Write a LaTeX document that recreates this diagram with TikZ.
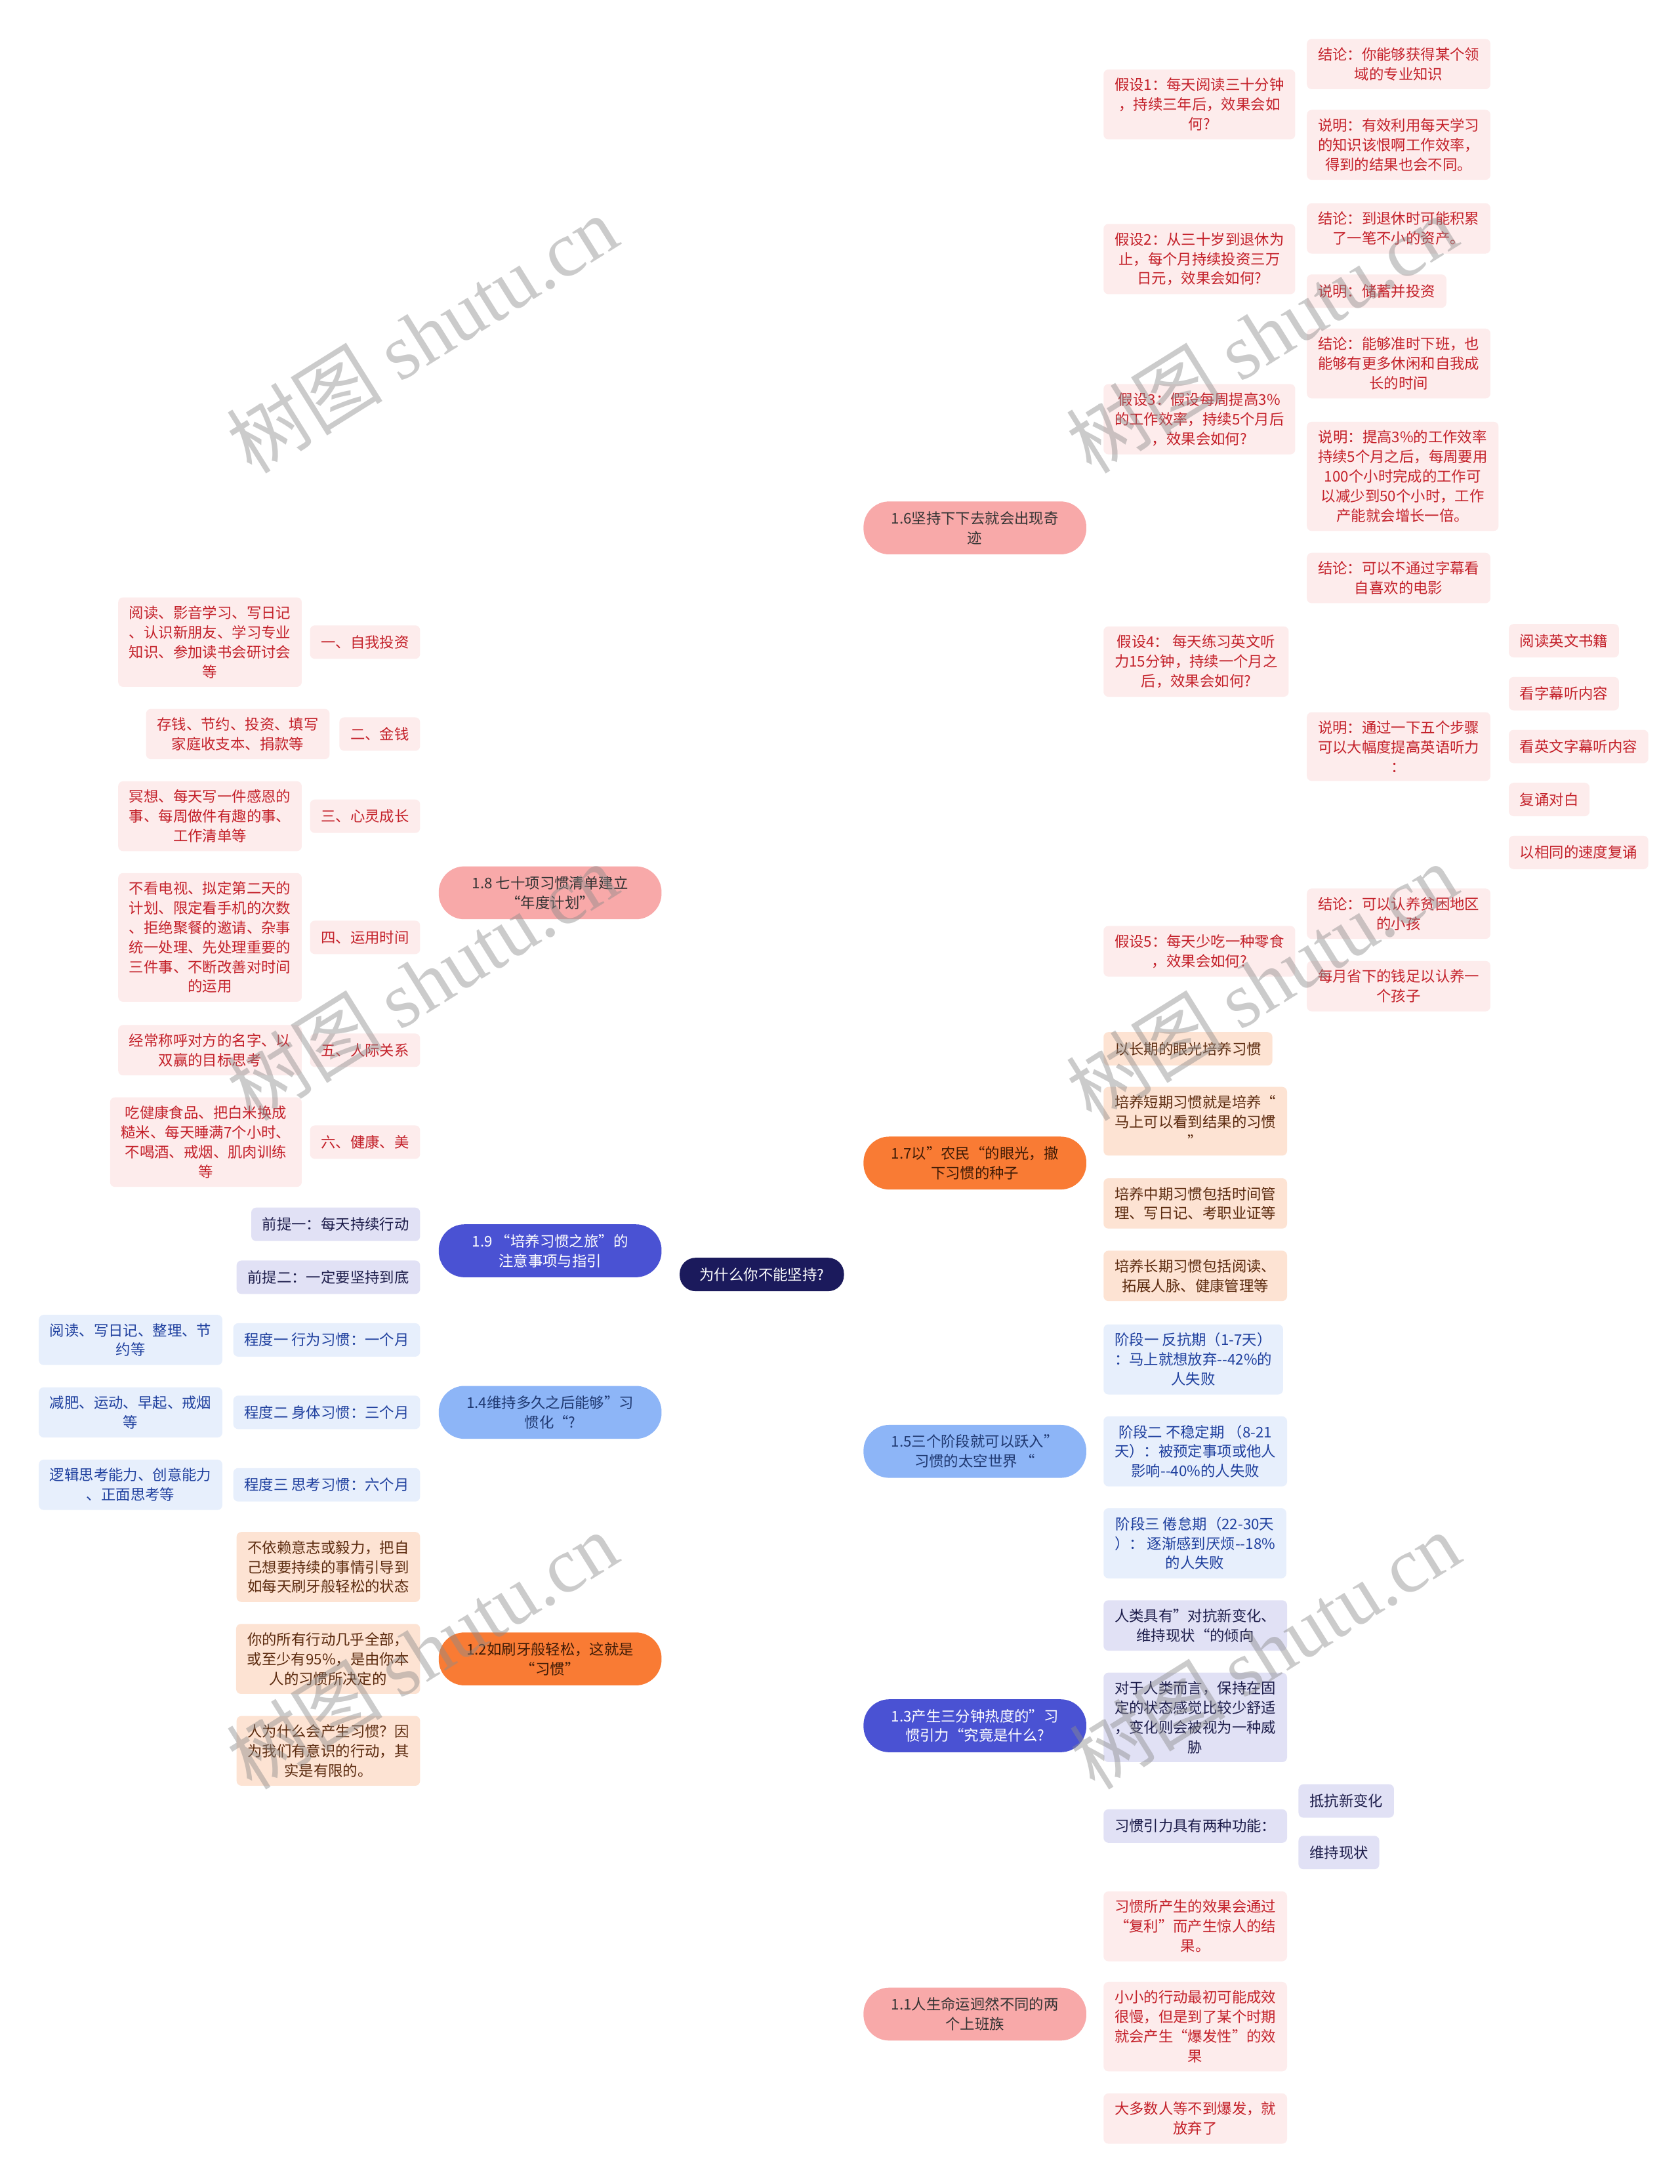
\documentclass[tikz,border=0pt]{standalone}
\usepackage{fontspec}
\setmainfont{Noto Sans CJK SC}
\newfontfamily\wmfont{Liberation Serif}
\usetikzlibrary{calc, backgrounds}
\definecolor{hbroot}{HTML}{1B1A5C}
\definecolor{hbpink}{HTML}{F8A9A9}
\definecolor{hbpinktx}{HTML}{333333}
\definecolor{hbpinkbg}{HTML}{FDECEC}
\definecolor{hbpinkfg}{HTML}{C4212A}
\definecolor{hbpinkln}{HTML}{EFA3A3}
\definecolor{hborg}{HTML}{F97B34}
\definecolor{hborgtx}{HTML}{3F1B06}
\definecolor{hborgbg}{HTML}{FDE3D3}
\definecolor{hborgfg}{HTML}{5B2A0E}
\definecolor{hborgln}{HTML}{D9692A}
\definecolor{hbblu}{HTML}{8DB5F7}
\definecolor{hbblutx}{HTML}{1F3870}
\definecolor{hbblubg}{HTML}{E7EFFC}
\definecolor{hbblufg}{HTML}{1E3F9E}
\definecolor{hbbluln}{HTML}{7EA3DD}
\definecolor{hbpur}{HTML}{4A52D3}
\definecolor{hbpurbg}{HTML}{E1E1F5}
\definecolor{hbpurfg}{HTML}{1C1C4A}
\definecolor{hbpurln}{HTML}{1F2777}

\begin{document}
\begin{tikzpicture}[
  x=0.02cm, y=-0.02cm,
  font=\fontsize{6}{8}\selectfont,
  line cap=round, line join=round,
  leaf/.style={align=center, inner xsep=4.5pt, inner ysep=3.5pt, rounded corners=2pt, minimum height=0.48cm},
  pill/.style={align=center, inner xsep=5pt, inner ysep=3pt, minimum width=3.2cm, minimum height=0.76cm, rounded corners=10.5pt},
  pinkpill/.style={pill, fill=hbpink, text=hbpinktx},
  orgpill/.style={pill, fill=hborg, text=hborgtx},
  blupill/.style={pill, fill=hbblu, text=hbblutx},
  purpill/.style={pill, fill=hbpur, text=white},
  pinkleaf/.style={leaf, fill=hbpinkbg, text=hbpinkfg},
  orgleaf/.style={leaf, fill=hborgbg, text=hborgfg},
  bluleaf/.style={leaf, fill=hbblubg, text=hbblufg},
  purleaf/.style={leaf, fill=hbpurbg, text=hbpurfg},
  link/.style={line width=0.5pt, rounded corners=4pt},
  trunk/.style={line width=0.7pt},
  wm/.style={text=black!45, text opacity=0.45, font=\fontsize{32}{32}\selectfont, rotate=32, inner sep=0pt},
]
\fill[white] (0,0) rectangle (1206,1568);
\useasboundingbox (0,0) rectangle (1206,1568);

\node[fill=hbroot, text=white, rounded corners=6.5pt, minimum width=2.36cm, minimum height=0.48cm] (root) at (547,915) {为什么你不能坚持?};

% right: main branches
\node[pinkpill] (n16) at (700,379) {1.6坚持下下去就会出现奇\\迹};
\node[orgpill] (n17) at (700,835) {1.7以”农民“的眼光，撤\\下习惯的种子};
\node[blupill] (n15) at (700,1042) {1.5三个阶段就可以跃入”\\习惯的太空世界 “};
\node[purpill] (n13) at (700,1239) {1.3产生三分钟热度的”习\\惯引力“究竟是什么?};
\node[pinkpill] (n11) at (700,1446) {1.1人生命运迥然不同的两\\个上班族};

% left: main branches
\node[pinkpill] (n18) at (395,641) {1.8 七十项习惯清单建立\\“年度计划”};
\node[purpill] (n19) at (395,898) {1.9 “培养习惯之旅”的\\注意事项与指引};
\node[blupill] (n14) at (395,1014) {1.4维持多久之后能够”习\\惯化“?};
\node[orgpill] (n12) at (395,1191) {1.2如刷牙般轻松，这就是\\“习惯”};

% 1.6 hypotheses
\node[pinkleaf, anchor=west] (h1) at (792,75) {假设1：每天阅读三十分钟\\，持续三年后，效果会如\\何?};
\node[pinkleaf, anchor=west] (h2) at (792,186) {假设2：从三十岁到退休为\\止，每个月持续投资三万\\日元，效果会如何?};
\node[pinkleaf, anchor=west] (h3) at (792,301) {假设3：假设每周提高3\%\\的工作效率，持续5个月后\\，效果会如何?};
\node[pinkleaf, anchor=west] (h4) at (792,475) {假设4： 每天练习英文听\\力15分钟，持续一个月之\\后，效果会如何?};
\node[pinkleaf, anchor=west] (h5) at (792,683) {假设5：每天少吃一种零食\\，效果会如何?};

\node[pinkleaf, anchor=west] (h1a) at (938,46) {结论：你能够获得某个领\\域的专业知识};
\node[pinkleaf, anchor=west] (h1b) at (938,104) {说明：有效利用每天学习\\的知识该恨啊工作效率，\\得到的结果也会不同。};
\node[pinkleaf, anchor=west] (h2a) at (938,164) {结论：到退休时可能积累\\了一笔不小的资产。};
\node[pinkleaf, anchor=west] (h2b) at (938,209) {说明：储蓄并投资};
\node[pinkleaf, anchor=west] (h3a) at (938,261) {结论：能够准时下班，也\\能够有更多休闲和自我成\\长的时间};
\node[pinkleaf, anchor=west] (h3b) at (938,342) {说明：提高3\%的工作效率\\持续5个月之后，每周要用\\100个小时完成的工作可\\以减少到50个小时，工作\\产能就会增长一倍。};
\node[pinkleaf, anchor=west] (h4a) at (938,415) {结论：可以不通过字幕看\\自喜欢的电影};
\node[pinkleaf, anchor=west] (h4b) at (938,536) {说明：通过一下五个步骤\\可以大幅度提高英语听力\\：};
\node[pinkleaf, anchor=west] (h5a) at (938,656) {结论：可以认养贫困地区\\的小孩};
\node[pinkleaf, anchor=west] (h5b) at (938,708) {每月省下的钱足以认养一\\个孩子};

\node[pinkleaf, anchor=west] (s1) at (1083,460) {阅读英文书籍};
\node[pinkleaf, anchor=west] (s2) at (1083,498) {看字幕听内容};
\node[pinkleaf, anchor=west] (s3) at (1083,536) {看英文字幕听内容};
\node[pinkleaf, anchor=west] (s4) at (1083,574) {复诵对白};
\node[pinkleaf, anchor=west] (s5) at (1083,612) {以相同的速度复诵};

% 1.7
\node[orgleaf, anchor=west] (o1) at (792,753) {以长期的眼光培养习惯};
\node[orgleaf, anchor=west] (o2) at (792,805) {培养短期习惯就是培养“\\马上可以看到结果的习惯\\”};
\node[orgleaf, anchor=west] (o3) at (792,864) {培养中期习惯包括时间管\\理、写日记、考职业证等};
\node[orgleaf, anchor=west] (o4) at (792,916) {培养长期习惯包括阅读、\\拓展人脉、健康管理等};

% 1.5
\node[bluleaf, anchor=west] (b1) at (792,976) {阶段一 反抗期（1-7天）\\：马上就想放弃-{}-42\%的\\人失败};
\node[bluleaf, anchor=west] (b2) at (792,1042) {阶段二 不稳定期 （8-21\\天）：被预定事项或他人\\影响-{}-40\%的人失败};
\node[bluleaf, anchor=west] (b3) at (792,1108) {阶段三 倦怠期（22-30天\\）： 逐渐感到厌烦-{}-18\%\\的人失败};

% 1.3
\node[purleaf, anchor=west] (p1) at (792,1167) {人类具有”对抗新变化、\\维持现状“的倾向};
\node[purleaf, anchor=west] (p2) at (792,1233) {对于人类而言，保持在固\\定的状态感觉比较少舒适\\，变化则会被视为一种威\\胁};
\node[purleaf, anchor=west] (p3) at (792,1311) {习惯引力具有两种功能：};
\node[purleaf, anchor=west] (p3a) at (932,1293) {抵抗新变化};
\node[purleaf, anchor=west] (p3b) at (932,1330) {维持现状};

% 1.1
\node[pinkleaf, anchor=west] (r1) at (792,1383) {习惯所产生的效果会通过\\“复利”而产生惊人的结\\果。};
\node[pinkleaf, anchor=west] (r2) at (792,1455) {小小的行动最初可能成效\\很慢，但是到了某个时期\\就会产生“爆发性”的效\\果};
\node[pinkleaf, anchor=west] (r3) at (792,1521) {大多数人等不到爆发，就\\放弃了};

% 1.8
\node[pinkleaf, anchor=east] (e1) at (302,461) {一、自我投资};
\node[pinkleaf, anchor=east] (e2) at (302,527) {二、金钱};
\node[pinkleaf, anchor=east] (e3) at (302,586) {三、心灵成长};
\node[pinkleaf, anchor=east] (e4) at (302,673) {四、运用时间};
\node[pinkleaf, anchor=east] (e5) at (302,754) {五、人际关系};
\node[pinkleaf, anchor=east] (e6) at (302,820) {六、健康、美};
\node[pinkleaf, anchor=east] (f1) at (217,461) {阅读、影音学习、写日记\\、认识新朋友、学习专业\\知识、参加读书会研讨会\\等};
\node[pinkleaf, anchor=east] (f2) at (237,527) {存钱、节约、投资、填写\\家庭收支本、捐款等};
\node[pinkleaf, anchor=east] (f3) at (217,586) {冥想、每天写一件感恩的\\事、每周做件有趣的事、\\工作清单等};
\node[pinkleaf, anchor=east] (f4) at (217,673) {不看电视、拟定第二天的\\计划、限定看手机的次数\\、拒绝聚餐的邀请、杂事\\统一处理、先处理重要的\\三件事、不断改善对时间\\的运用};
\node[pinkleaf, anchor=east] (f5) at (217,754) {经常称呼对方的名字、以\\双赢的目标思考};
\node[pinkleaf, anchor=east] (f6) at (217,820) {吃健康食品、把白米换成\\糙米、每天睡满7个小时、\\不喝酒、戒烟、肌肉训练\\等};

% 1.9
\node[purleaf, anchor=east] (q1) at (302,879) {前提一：每天持续行动};
\node[purleaf, anchor=east] (q2) at (302,917) {前提二：一定要坚持到底};

% 1.4
\node[bluleaf, anchor=east] (d1) at (302,962) {程度一 行为习惯：一个月};
\node[bluleaf, anchor=east] (d2) at (302,1014) {程度二 身体习惯：三个月};
\node[bluleaf, anchor=east] (d3) at (302,1066) {程度三 思考习惯：六个月};
\node[bluleaf, anchor=east] (c1) at (160,962) {阅读、写日记、整理、节\\约等};
\node[bluleaf, anchor=east] (c2) at (160,1014) {减肥、运动、早起、戒烟\\等};
\node[bluleaf, anchor=east] (c3) at (160,1066) {逻辑思考能力、创意能力\\、正面思考等};

% 1.2
\node[orgleaf, anchor=east] (g1) at (302,1125) {不依赖意志或毅力，把自\\己想要持续的事情引导到\\如每天刷牙般轻松的状态};
\node[orgleaf, anchor=east] (g2) at (302,1191) {你的所有行动几乎全部，\\或至少有95\%，是由你本\\人的习惯所决定的};
\node[orgleaf, anchor=east] (g3) at (302,1257) {人为什么会产生习惯？因\\为我们有意识的行动，其\\实是有限的。};

% connectors
\begin{scope}[on background layer]
\foreach \n/\s in {n16/hbpinkln, n17/hborgln, n15/hbbluln, n13/hbpurln, n11/hbpinkln}
  \draw[trunk, draw=\s] (root.center) .. controls ($(root.center)!0.8!(root.center|-\n.west)$) and ($(\n.west)+(-60,0)$) .. (\n.west);
\foreach \n/\s in {n18/hbpinkln, n19/hbpurln, n14/hbbluln, n12/hborgln}
  \draw[trunk, draw=\s] (root.center) .. controls ($(root.center)!0.8!(root.center|-\n.east)$) and ($(\n.east)+(60,0)$) .. (\n.east);

\foreach \c in {h1,h2,h3,h4,h5}
  \draw[link, draw=hbpinkln] (n16.east) -- ++(7,0) |- (\c.west);
\foreach \p/\c in {h1/h1a, h1/h1b, h2/h2a, h2/h2b, h3/h3a, h3/h3b, h4/h4a, h4/h4b, h5/h5a, h5/h5b}
  \draw[link, draw=hbpinkln] (\p.east) -- ++(4,0) |- (\c.west);
\foreach \c in {s1,s2,s3,s4,s5}
  \draw[link, draw=hbpinkln] (h4b.east) -- ++(5,0) |- (\c.west);
\foreach \c in {o1,o2,o3,o4}
  \draw[link, draw=hborgln] (n17.east) -- ++(7,0) |- (\c.west);
\foreach \c in {b1,b2,b3}
  \draw[link, draw=hbbluln] (n15.east) -- ++(7,0) |- (\c.west);
\foreach \c in {p1,p2,p3}
  \draw[link, draw=hbpurln] (n13.east) -- ++(7,0) |- (\c.west);
\foreach \c in {p3a,p3b}
  \draw[link, draw=hbpurln] (p3.east) -- ++(6,0) |- (\c.west);
\foreach \c in {r1,r2,r3}
  \draw[link, draw=hbpinkln] (n11.east) -- ++(7,0) |- (\c.west);

\foreach \c in {e1,e2,e3,e4,e5,e6}
  \draw[link, draw=hbpinkln] (n18.west) -- ++(-7,0) |- (\c.east);
\foreach \p/\c in {e1/f1, e2/f2, e3/f3, e4/f4, e5/f5, e6/f6}
  \draw[link, draw=hbpinkln] (\p.west) -- (\c.east);
\foreach \c in {q1,q2}
  \draw[link, draw=hbpurln] (n19.west) -- ++(-7,0) |- (\c.east);
\foreach \c in {d1,d2,d3}
  \draw[link, draw=hbbluln] (n14.west) -- ++(-7,0) |- (\c.east);
\foreach \p/\c in {d1/c1, d2/c2, d3/c3}
  \draw[link, draw=hbbluln] (\p.west) -- (\c.east);
\foreach \c in {g1,g2,g3}
  \draw[link, draw=hborgln] (n12.west) -- ++(-7,0) |- (\c.east);
\end{scope}

% watermarks
\node[wm] (wm1) at (303,240) {树图 {\wmfont shutu.cn}};
\node[wm] (wm2) at (906,240) {树图 {\wmfont shutu.cn}};
\node[wm] (wm3) at (303,705) {树图 {\wmfont shutu.cn}};
\node[wm] (wm4) at (906,705) {树图 {\wmfont shutu.cn}};
\node[wm] (wm5) at (303,1185) {树图 {\wmfont shutu.cn}};
\node[wm] (wm6) at (908,1185) {树图 {\wmfont shutu.cn}};
\end{tikzpicture}
\end{document}
